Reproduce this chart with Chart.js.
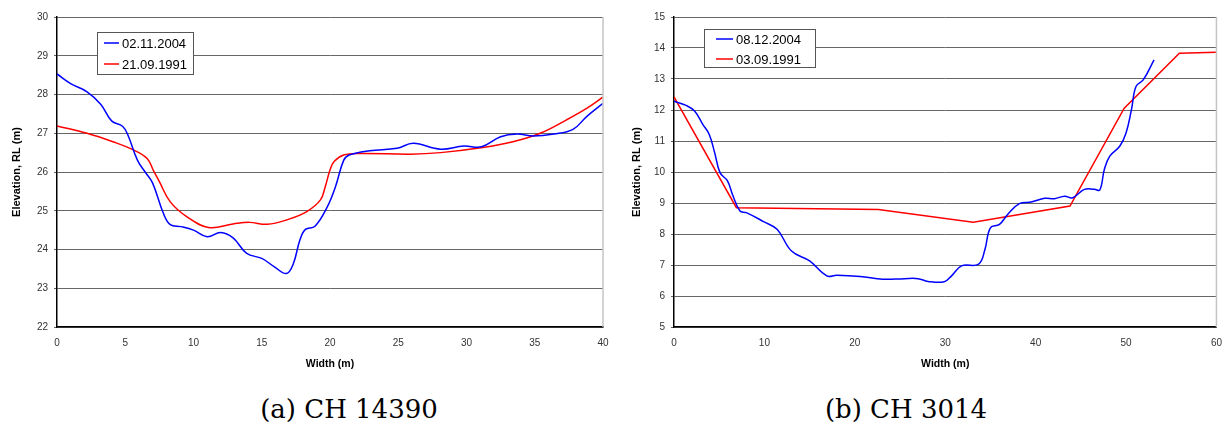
<!DOCTYPE html>
<html>
<head>
<meta charset="utf-8">
<script src="https://cdn.jsdelivr.net/npm/chart.js@4.4.1/dist/chart.umd.min.js"></script>
<style>
  html, body { margin: 0; padding: 0; background: #fff; }
  #page { position: relative; width: 1225px; height: 424px; overflow: hidden; }
  .box { position: absolute; top: 0; height: 370px; }
  .caption {
    position: absolute; top: 394px; line-height: 30px;
    font-family: "DejaVu Serif", serif; font-size: 26px; color: #000;
    transform: translateX(-50%); white-space: nowrap;
  }
</style>
</head>
<body>
<div id="page">
  <div class="box" style="left:0;width:612px"><canvas id="chartA"></canvas></div>
  <div class="box" style="left:612px;width:613px"><canvas id="chartB"></canvas></div>
  <div class="caption" style="left:349px">(a) CH 14390</div>
  <div class="caption" style="left:906px">(b) CH 3014</div>
</div>
<script>
// CH 14390 cross sections
const ch14390Labels = ['02.11.2004', '21.09.1991'];
const ch14390NewX = [0, 1.0, 2.2, 3.2, 4.0, 4.8, 5.2, 5.9, 6.5, 7.0, 7.8, 8.3, 9.1, 10.0, 11.0, 12.0, 12.9, 13.9, 15.0, 15.9, 16.8, 17.3, 17.8, 18.2, 18.9, 19.8, 20.4, 21.0, 21.4, 22.9, 24.9, 26.1, 28.1, 29.8, 31.1, 32.5, 33.7, 34.9, 36.4, 37.8, 38.8, 40.0];
const ch14390NewY = [28.53, 28.28, 28.07, 27.75, 27.32, 27.18, 26.95, 26.3, 25.98, 25.72, 24.93, 24.64, 24.59, 24.5, 24.33, 24.44, 24.3, 23.9, 23.77, 23.56, 23.38, 23.62, 24.25, 24.52, 24.6, 25.1, 25.62, 26.3, 26.44, 26.55, 26.61, 26.74, 26.59, 26.67, 26.65, 26.91, 26.98, 26.93, 26.98, 27.1, 27.43, 27.77];
const ch14390OldX = [0, 2.2, 4.1, 5.6, 6.6, 7.05, 7.5, 8.3, 9.5, 11.1, 12.9, 14.1, 15.4, 16.8, 18.3, 19.3, 19.65, 20.0, 20.3, 21.0, 22.2, 25.9, 28.1, 31.2, 33.4, 35.4, 37.3, 38.8, 40.0];
const ch14390OldY = [27.19, 27.0, 26.78, 26.57, 26.35, 26.05, 25.75, 25.23, 24.85, 24.57, 24.66, 24.7, 24.65, 24.76, 24.98, 25.28, 25.62, 26.05, 26.27, 26.44, 26.48, 26.46, 26.5, 26.63, 26.78, 27.0, 27.34, 27.64, 27.93];

// CH 3014 cross sections
const ch3014Labels = ['08.12.2004', '03.09.1991'];
const ch3014NewX = [0, 1.4, 2.3, 3.2, 3.9, 4.5, 5.1, 5.9, 6.5, 7.3, 8.0, 9.9, 11.4, 13.0, 15.0, 16.9, 18.0, 20.6, 23.1, 25.5, 27.0, 28.1, 29.9, 30.7, 31.8, 33.7, 34.4, 35.0, 36.0, 36.9, 38.2, 39.5, 41.0, 42.1, 43.2, 44.1, 45.4, 46.5, 47.1, 47.6, 48.2, 49.3, 50.0, 50.6, 51.1, 51.9, 53.1];
const ch3014NewY = [12.28, 12.14, 11.96, 11.53, 11.21, 10.62, 9.97, 9.72, 9.25, 8.74, 8.69, 8.4, 8.15, 7.45, 7.13, 6.65, 6.67, 6.63, 6.54, 6.56, 6.56, 6.47, 6.46, 6.65, 6.97, 7.03, 7.51, 8.2, 8.31, 8.63, 8.98, 9.03, 9.15, 9.14, 9.22, 9.17, 9.44, 9.44, 9.42, 10.08, 10.51, 10.83, 11.26, 12.01, 12.76, 12.97, 13.62];
const ch3014OldX = [0, 6.9, 22.6, 33.1, 43.8, 49.8, 55.9, 60];
const ch3014OldY = [12.42, 8.85, 8.79, 8.38, 8.9, 12.06, 13.83, 13.86];

const BLUE = '#0000ff';
const RED = '#ff0000';

Chart.defaults.font.family = '"Liberation Sans", Arial, sans-serif';
Chart.defaults.color = '#333';

const toPoints = (xs, ys) => xs.map((x, i) => ({ x: x, y: ys[i] }));

// legend box drawn inside the plot, like the spreadsheet original
const boxLegend = {
    id: 'boxLegend',
    afterDatasetsDraw(chart, args, opts) {
        const { ctx, chartArea } = chart;
        const x = chartArea.left + opts.x;
        const y = chartArea.top + opts.y;
        ctx.save();
        ctx.fillStyle = '#fff';
        ctx.fillRect(x, y, opts.w, opts.h);
        ctx.strokeStyle = '#555';
        ctx.lineWidth = 1;
        ctx.strokeRect(x + 0.5, y + 0.5, opts.w, opts.h);
        ctx.font = '13px "Liberation Sans", Arial, sans-serif';
        ctx.textBaseline = 'middle';
        chart.data.datasets.forEach((ds, i) => {
            const ry = y + opts.row + i * opts.gap;
            ctx.strokeStyle = ds.borderColor;
            ctx.lineWidth = 1.5;
            ctx.beginPath();
            ctx.moveTo(x + opts.s0, ry);
            ctx.lineTo(x + opts.s1, ry);
            ctx.stroke();
            ctx.fillStyle = '#000';
            ctx.fillText(ds.label, x + opts.tx, ry + 1);
        });
        ctx.restore();
    }
};

// light grey frame on the right edge of the plot
const rightFrame = {
    id: 'rightFrame',
    afterDraw(chart) {
        const { ctx, chartArea } = chart;
        ctx.save();
        ctx.strokeStyle = '#c4c4c4';
        ctx.lineWidth = 1.5;
        ctx.beginPath();
        ctx.moveTo(chartArea.right, chartArea.top);
        ctx.lineTo(chartArea.right, chartArea.bottom);
        ctx.stroke();
        ctx.restore();
    }
};

function makeChart(id, cfg) {
    return new Chart(document.getElementById(id), {
        type: 'line',
        data: {
            datasets: [
                {
                    label: cfg.labels[0],
                    data: toPoints(cfg.newX, cfg.newY),
                    borderColor: BLUE,
                    borderWidth: 1.5,
                    pointRadius: 0,
                    tension: 0.4,
                    fill: false
                },
                {
                    label: cfg.labels[1],
                    data: toPoints(cfg.oldX, cfg.oldY),
                    borderColor: RED,
                    borderWidth: 1.5,
                    pointRadius: 0,
                    tension: cfg.oldTension,
                    fill: false
                }
            ]
        },
        options: {
            responsive: true,
            maintainAspectRatio: false,
            animation: false,
            layout: { padding: cfg.padding },
            scales: {
                x: {
                    type: 'linear',
                    min: cfg.xMin,
                    max: cfg.xMax,
                    ticks: { stepSize: cfg.xStep, padding: 3, font: { size: 10 }, color: '#333' },
                    grid: { display: false, drawTicks: true, tickLength: 7 },
                    border: { display: true, color: '#000', width: 1.5 },
                    title: {
                        display: true,
                        text: 'Width (m)',
                        font: { size: 10.5, weight: 'bold' },
                        color: '#000',
                        padding: 0
                    },
                    afterFit: s => { s.height = 43; }
                },
                y: {
                    min: cfg.yMin,
                    max: cfg.yMax,
                    ticks: { stepSize: 1, padding: 6, font: { size: 10 }, color: '#333' },
                    grid: { color: '#666', lineWidth: 1, tickLength: 3, drawTicks: true },
                    border: { display: true, color: '#000', width: 1.5 },
                    title: {
                        display: true,
                        text: 'Elevation, RL (m)',
                        font: { size: 11, weight: 'bold' },
                        color: '#000',
                        padding: 0
                    },
                    afterFit: s => { s.width = cfg.yWidth; }
                }
            },
            plugins: {
                legend: { display: false },
                tooltip: { enabled: false },
                boxLegend: cfg.legend
            }
        },
        plugins: [boxLegend, rightFrame]
    });
}

makeChart('chartA', {
    labels: ch14390Labels,
    newX: ch14390NewX, newY: ch14390NewY,
    oldX: ch14390OldX, oldY: ch14390OldY,
    oldTension: 0.4,
    xMin: 0, xMax: 40, xStep: 5,
    yMin: 22, yMax: 30,
    yWidth: 47,
    padding: { left: 10, top: 17, right: 9, bottom: 0 },
    legend: { x: 40, y: 15, w: 96, h: 42, row: 11, gap: 21, s0: 7, s1: 22, tx: 25 }
});

makeChart('chartB', {
    labels: ch3014Labels,
    newX: ch3014NewX, newY: ch3014NewY,
    oldX: ch3014OldX, oldY: ch3014OldY,
    oldTension: 0,
    xMin: 0, xMax: 60, xStep: 10,
    yMin: 5, yMax: 15,
    yWidth: 44,
    padding: { left: 18, top: 17, right: 8, bottom: 0 },
    legend: { x: 30, y: 12, w: 111, h: 38, row: 10, gap: 20, s0: 12, s1: 29, tx: 32 }
});
</script>
</body>
</html>
